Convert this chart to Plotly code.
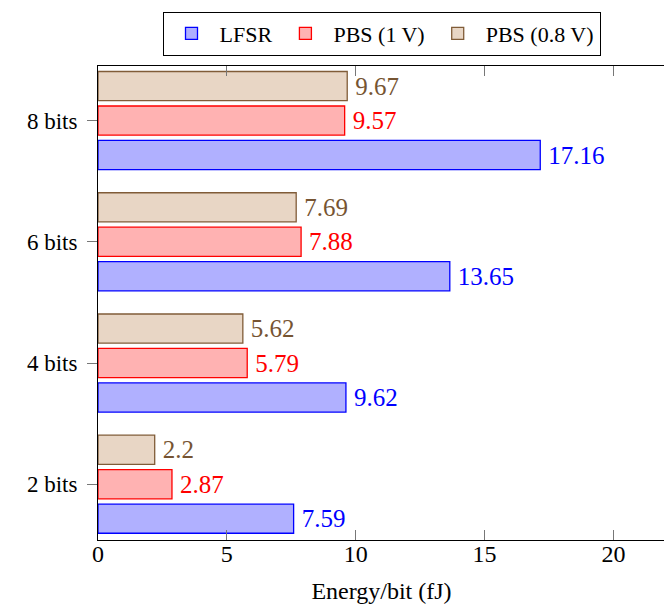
import plotly.graph_objects as go

categories = ["2 bits", "4 bits", "6 bits", "8 bits"]
lfsr = [7.59, 9.62, 13.65, 17.16]
pbs_1v = [2.87, 5.79, 7.88, 9.57]
pbs_08v = [2.2, 5.62, 7.69, 9.67]
lfsr_labels = ["7.59", "9.62", "13.65", "17.16"]
pbs_1v_labels = ["2.87", "5.79", "7.88", "9.57"]
pbs_08v_labels = ["2.2", "5.62", "7.69", "9.67"]
x_ticks = [0, 5, 10, 15, 20]

FONT = "Liberation Serif"

series = [
    ("LFSR", lfsr, lfsr_labels, "rgb(176,176,255)", "rgb(0,0,255)", "rgb(0,0,255)"),
    ("PBS (1 V)", pbs_1v, pbs_1v_labels, "rgb(255,178,178)", "rgb(255,0,0)", "rgb(255,0,0)"),
    ("PBS (0.8 V)", pbs_08v, pbs_08v_labels, "rgb(232,214,197)", "rgb(128,92,56)", "rgb(118,84,50)"),
]

fig = go.Figure()
for name, vals, labels, fill, line, tcol in series:
    fig.add_trace(go.Bar(
        y=categories, x=vals, orientation="h", name=name,
        marker=dict(color=fill, line=dict(color=line, width=1.3)),
        text=["\u2009" + s for s in labels], textposition="outside",
        textfont=dict(color=tcol, size=25, family=FONT),
        constraintext="none", cliponaxis=False,
    ))

fig.update_layout(
    width=664, height=600,
    paper_bgcolor="white", plot_bgcolor="white",
    font=dict(family=FONT, size=23, color="black"),
    barmode="group", bargap=0.147, bargroupgap=0.155,
    margin=dict(l=90, r=7, t=58, b=68, autoexpand=False),
    legend=dict(orientation="h", x=0.5, xanchor="center", y=1.022, yanchor="bottom",
                bordercolor="black", borderwidth=1, font=dict(size=22, family=FONT),
                traceorder="normal", itemwidth=46),
    showlegend=True,
)
fig.update_xaxes(
    range=[0, 22], tickvals=x_ticks, ticks="inside", ticklen=10, tickcolor="#777",
    showline=True, linecolor="black", linewidth=1, mirror="ticks", showgrid=False,
    zeroline=False, ticklabelstandoff=-8, tickfont=dict(size=24),
    title=dict(text="Energy/bit (fJ)", standoff=16, font=dict(size=24, family=FONT)),
    automargin=False,
)
fig.update_yaxes(
    categoryorder="array", categoryarray=categories, range=[-0.46, 3.45],
    ticks="outside", ticklen=10, tickcolor="#777", ticklabelstandoff=5,
    tickfont=dict(size=23),
    showline=True, linecolor="black", linewidth=1, mirror=True, showgrid=False,
    automargin=False,
)

fig.write_html("out.html")
